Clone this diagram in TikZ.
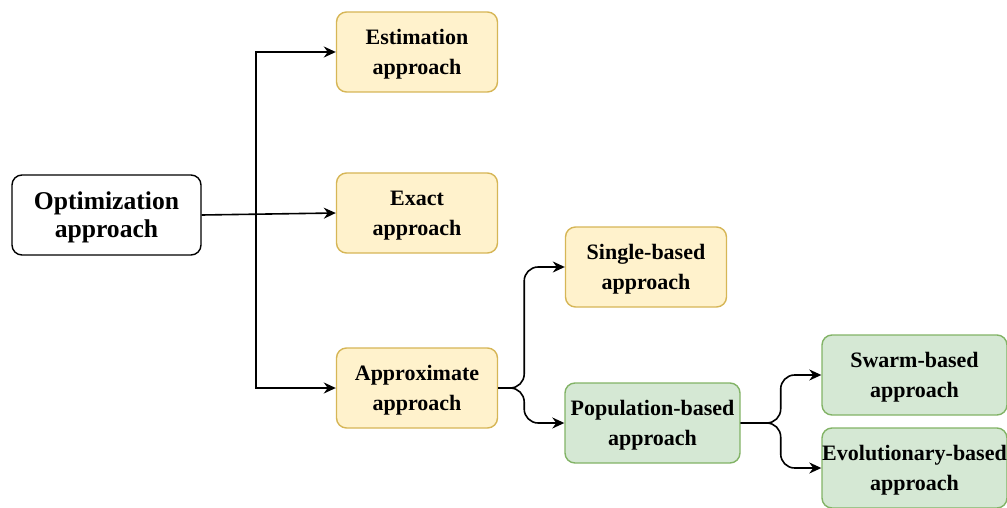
\documentclass[tikz,border=0pt]{standalone}
\usepackage{fontspec}
\setmainfont{Liberation Serif}
\usetikzlibrary{arrows.meta}
\definecolor{yelfill}{HTML}{FFF2CC}
\definecolor{yeldraw}{HTML}{D6B656}
\definecolor{grnfill}{HTML}{D5E8D4}
\definecolor{grndraw}{HTML}{82B366}

\begin{document}
\begin{tikzpicture}[
  x=0.5pt, y=-0.5pt,
  box/.style 2 args={
    rectangle,
    draw=#1,
    fill=#2,
    rounded corners=5pt,
    line width=0.7pt,
    align=center,
    inner sep=0pt,
    minimum width=80.5pt,
    minimum height=40pt,
    text depth=-4.5pt,
    font=\bfseries\fontsize{11}{15}\selectfont},
  link/.style={-{Stealth[length=6pt,width=5.5pt]},line width=0.8pt},
  fork/.style={link,rounded corners=7pt}]
  \useasboundingbox (0,0) rectangle (1007,508);
  % root node
  \node[box={black}{white},minimum width=94.5pt,font=\bfseries\fontsize{12.8}{14}\selectfont] (opt) at (106.5,215) {Optimization\\approach};
  % first level nodes
  \foreach \name/\y/\txt in {est/52/Estimation,exact/213/Exact,approx/388/Approximate}
    \node[box={yeldraw}{yelfill}] (\name) at (417,\y) {\txt\\approach};
  % second level nodes
  \node[box={yeldraw}{yelfill}] (single) at (646,267) {Single-based\\approach};
  \node[box={grndraw}{grnfill},minimum width=87.5pt] (pop) at (652.5,423) {Population-based\\approach};
  % third level nodes
  \node[box={grndraw}{grnfill},minimum width=92.5pt] (swarm) at (914.5,375) {Swarm-based\\approach};
  \node[box={grndraw}{grnfill},minimum width=92.5pt] (evo) at (914.5,468) {Evolutionary-based\\approach};
  % links from the root
  \draw[link] (opt.east) -- (exact.west);
  \coordinate (optfork) at (256,214);
  \draw[link] (optfork) |- (est.west);
  \draw[link] (optfork) |- (approx.west);
  % links from approximate approach
  \draw[fork] (approx.east) -- ++(26,0) |- (single.west);
  \draw[fork] (approx.east) -- ++(26,0) |- (pop.west);
  % links from population-based approach
  \draw[fork] (pop.east) -- ++(40,0) |- (swarm.west);
  \draw[fork] (pop.east) -- ++(40,0) |- (evo.west);
\end{tikzpicture}
\end{document}
